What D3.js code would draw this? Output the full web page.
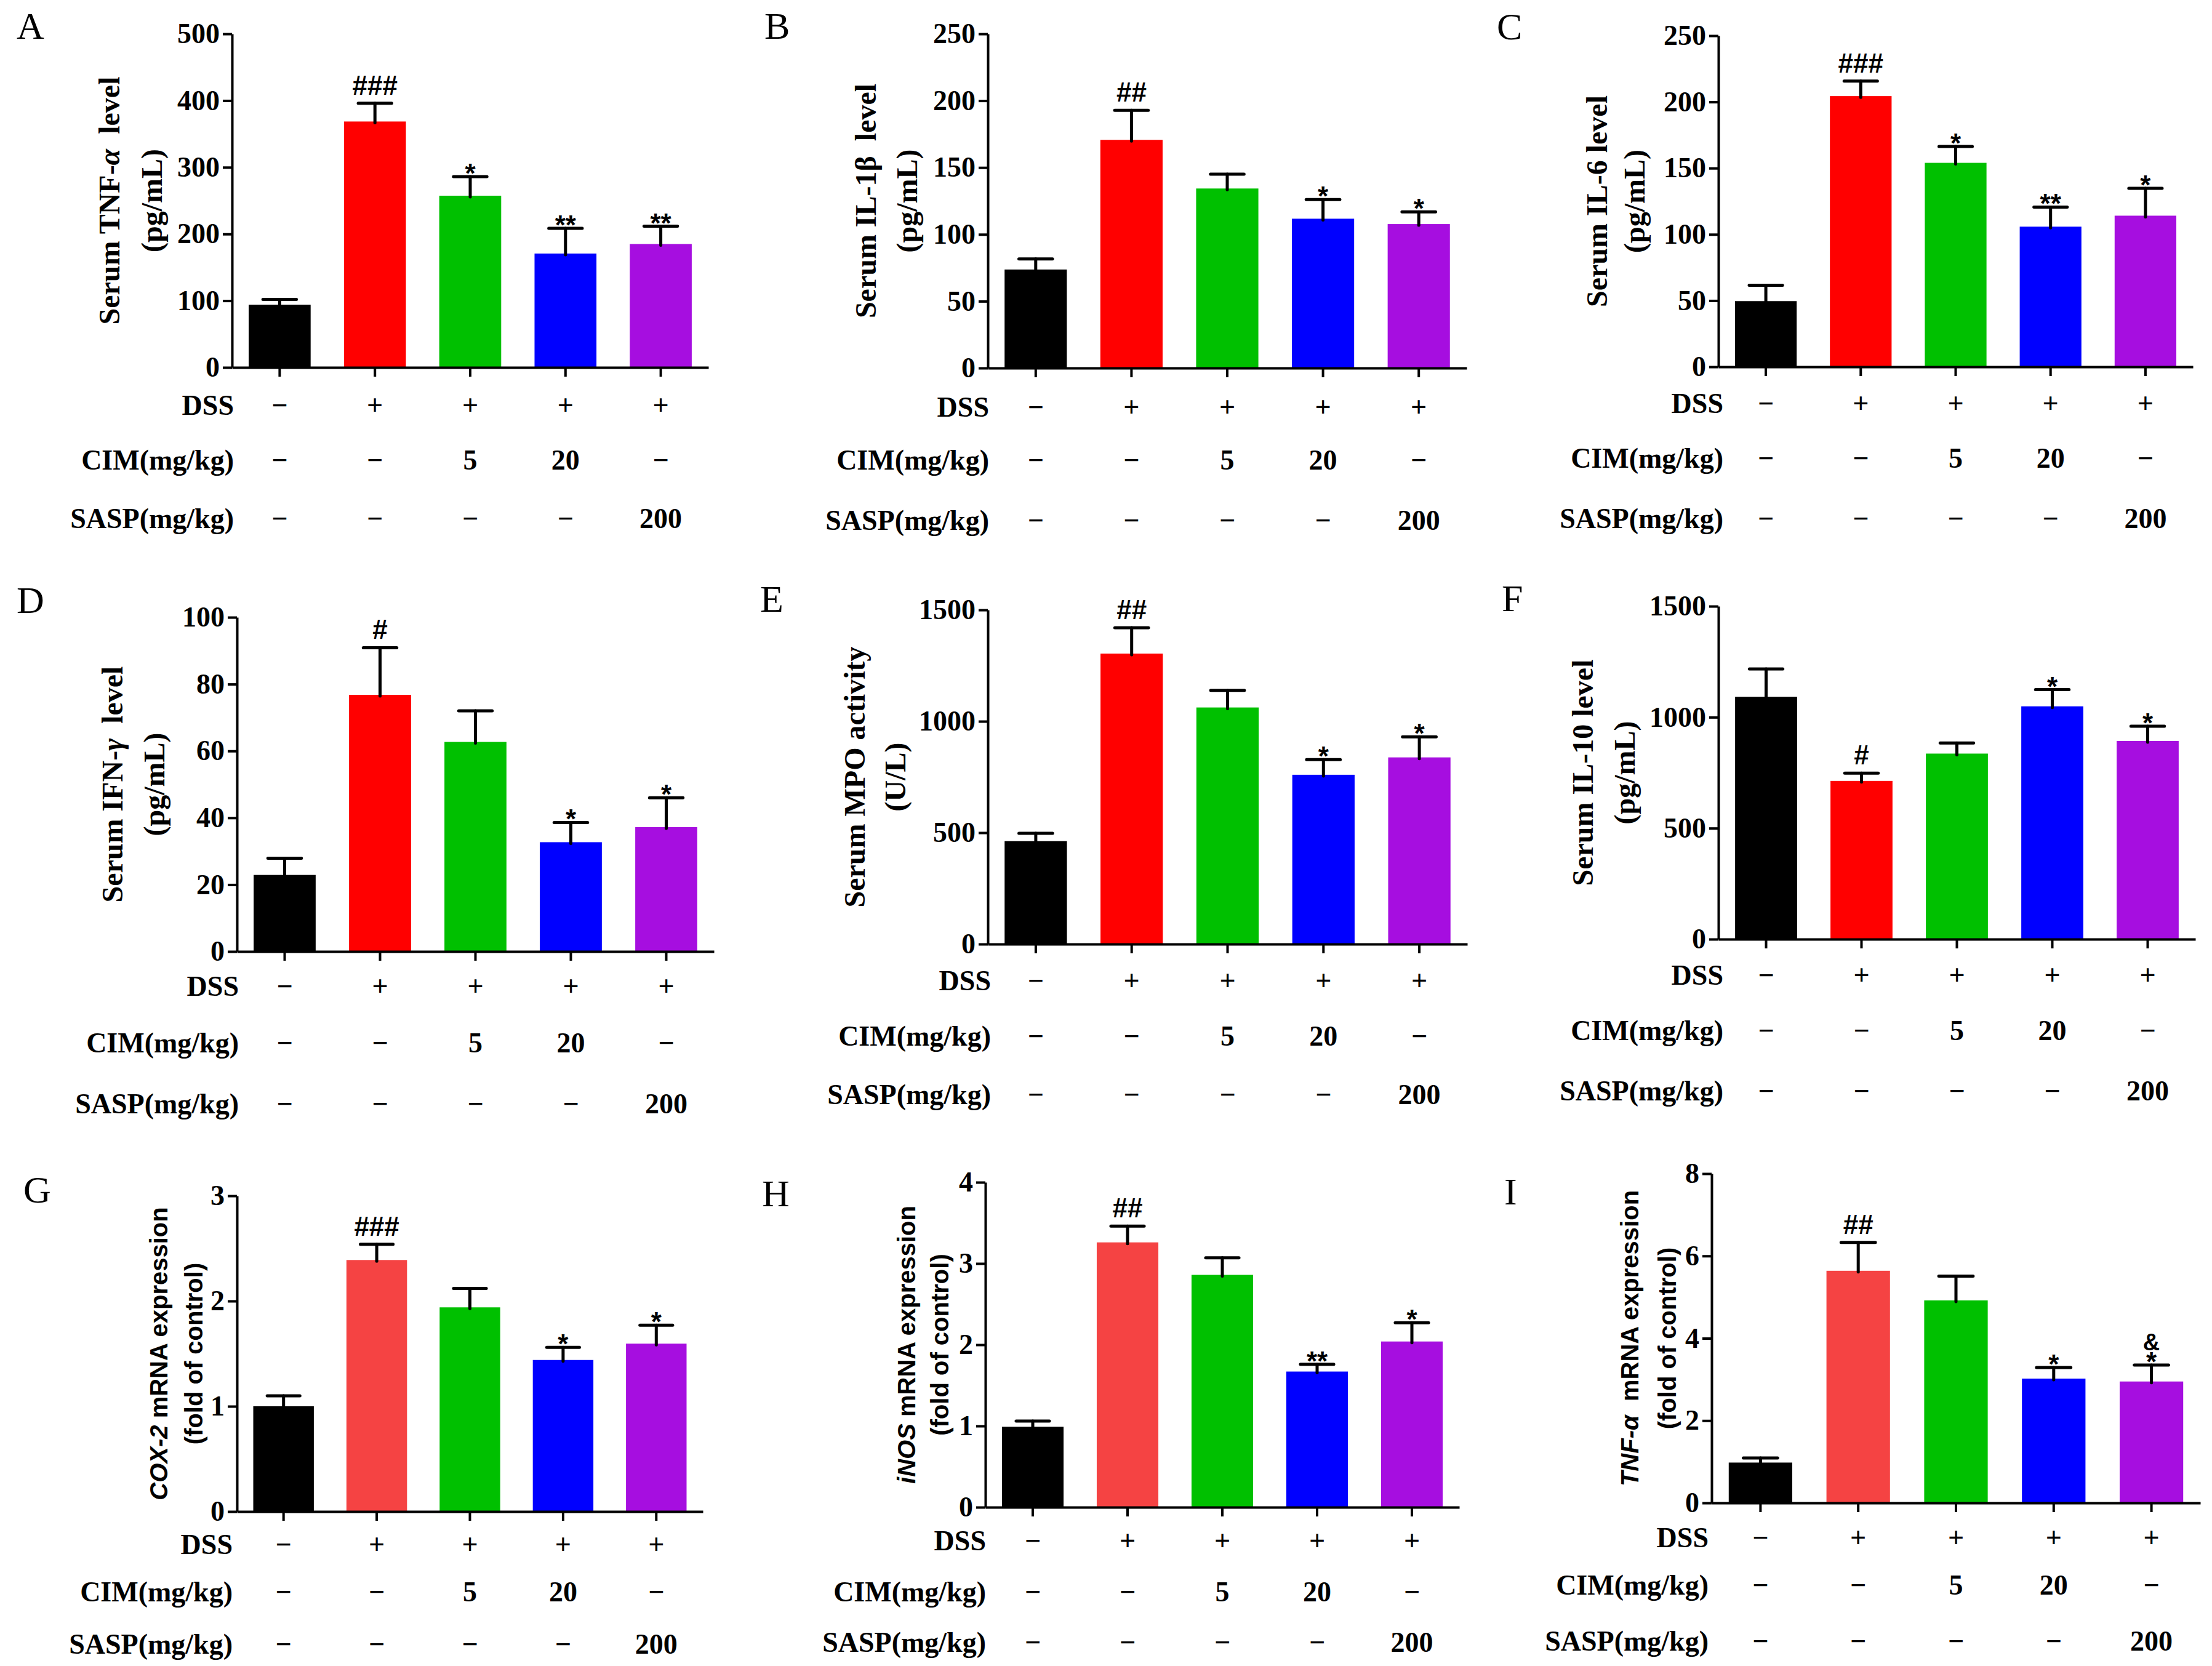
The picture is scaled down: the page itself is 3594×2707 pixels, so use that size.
<!DOCTYPE html>
<html lang="en">
<head>
<meta charset="utf-8">
<title>Serum cytokines and colonic mRNA expression</title>
<script src="https://d3js.org/d3.v7.min.js"></script>
<style>
  body { margin: 0; background: #fff; }
  svg { display: block; }
  .axis path, .axis line { stroke: #000; stroke-width: 4; }
  .axis text { font-family: "Liberation Serif", "Times New Roman", serif; font-weight: bold; font-size: 46px; fill: #000; }
  .row-text { font-family: "Liberation Serif", "Times New Roman", serif; font-weight: bold; font-size: 46px; fill: #000; }
  .ytitle { font-family: "Liberation Serif", "Times New Roman", serif; font-weight: bold; font-size: 48px; fill: #000; }
  .ytitle.sans { font-family: "Liberation Sans", Arial, sans-serif; font-size: 40px; }
  .letter { font-family: "Liberation Serif", "Times New Roman", serif; font-size: 62px; fill: #000; }
  .ann { font-family: "Liberation Sans", Arial, sans-serif; font-weight: bold; fill: #000; }
  .err { stroke: #000; stroke-width: 5; stroke-linecap: round; }
</style>
</head>
<body>
<svg id="fig" width="3594" height="2707"></svg>
<script>
// groups (x categories) and the treatment rows under each panel
const groups = ["Control", "DSS", "DSS+CIM5", "DSS+CIM20", "DSS+SASP"];
const rowNames = ["DSS", "CIM(mg/kg)", "SASP(mg/kg)"];
const dssRow = ["\u2212", "+", "+", "+", "+"];
const cimRow = ["\u2212", "\u2212", "5", "20", "\u2212"];
const saspRow = ["\u2212", "\u2212", "\u2212", "\u2212", "200"];

const panelLetters = ["A", "B", "C", "D", "E", "F", "G", "H", "I"];

// mean values
const tnfSerum = [94, 368.6, 257.4, 170.7, 185];
const il1bSerum = [73.7, 170.7, 134.3, 111.7, 107.7];
const il6Serum = [49.6, 204.4, 154, 105.8, 114.1];
const ifngSerum = [22.9, 76.8, 62.7, 32.7, 37.2];
const mpoSerum = [462, 1304, 1062, 760, 838];
const il10Serum = [1092, 713, 836, 1049, 893];
const cox2Mrna = [1.0, 2.39, 1.94, 1.44, 1.595];
const inosMrna = [0.99, 3.26, 2.86, 1.67, 2.04];
const tnfMrna = [0.98, 5.64, 4.92, 3.02, 2.95];

// upper error (SEM) for each bar
const tnfSerumErr = [8, 27.4, 28.6, 37.8, 26.7];
const il1bSerumErr = [7.9, 22.1, 10.7, 14.3, 9.1];
const il6SerumErr = [12, 11.3, 12.4, 14.8, 20.7];
const ifngSerumErr = [5, 14.1, 9.3, 5.9, 8.8];
const mpoSerumErr = [35, 116, 77, 68, 92];
const il10SerumErr = [125, 35, 48, 75, 66];
const cox2MrnaErr = [0.10, 0.15, 0.18, 0.12, 0.175];
const inosMrnaErr = [0.07, 0.20, 0.21, 0.09, 0.23];
const tnfMrnaErr = [0.11, 0.69, 0.59, 0.27, 0.40];

// significance marks above the bars
const tnfSerumSig = ["", "###", "*", "**", "**"];
const il1bSerumSig = ["", "##", "", "*", "*"];
const il6SerumSig = ["", "###", "*", "**", "*"];
const ifngSerumSig = ["", "#", "", "*", "*"];
const mpoSerumSig = ["", "##", "", "*", "*"];
const il10SerumSig = ["", "#", "", "*", "*"];
const cox2MrnaSig = ["", "###", "", "*", "*"];
const inosMrnaSig = ["", "##", "", "**", "*"];
const tnfMrnaSig = ["", "##", "", "*", "&\n*"];

// y axis ticks
const ticks500 = [0, 100, 200, 300, 400, 500];
const ticks250 = [0, 50, 100, 150, 200, 250];
const ticks100 = [0, 20, 40, 60, 80, 100];
const ticks1500 = [0, 500, 1000, 1500];
const ticks3 = [0, 1, 2, 3];
const ticks4 = [0, 1, 2, 3, 4];
const ticks8 = [0, 2, 4, 6, 8];

// axis titles: each line is a list of [text, italic]
const titleA = [[["Serum TNF-", false], ["\u03b1", true], ["  level", false]], [["(pg/mL)", false]]];
const titleB = [[["Serum IL-1\u03b2  level", false]], [["(pg/mL)", false]]];
const titleC = [[["Serum IL-6 level", false]], [["(pg/mL)", false]]];
const titleD = [[["Serum IFN-", false], ["\u03b3", true], ["  level", false]], [["(pg/mL)", false]]];
const titleE = [[["Serum MPO activity", false]], [["(U/L)", false]]];
const titleF = [[["Serum IL-10 level", false]], [["(pg/mL)", false]]];
const titleG = [[["COX-2", true], [" mRNA expression", false]], [["(fold of control)", false]]];
const titleH = [[["iNOS", true], [" mRNA expression", false]], [["(fold of control)", false]]];
const titleI = [[["TNF-\u03b1", true], ["  mRNA expression", false]], [["(fold of control)", false]]];

const serumColors = ["#000000", "#ff0000", "#00c000", "#0000ff", "#a60ee0"];
const mrnaColors = ["#000000", "#f54343", "#00c000", "#0000ff", "#a60ee0"];

const panels = [
  { mean: tnfSerum, err: tnfSerumErr, sig: tnfSerumSig, ticks: ticks500, title: titleA, colors: serumColors, sans: false },
  { mean: il1bSerum, err: il1bSerumErr, sig: il1bSerumSig, ticks: ticks250, title: titleB, colors: serumColors, sans: false },
  { mean: il6Serum, err: il6SerumErr, sig: il6SerumSig, ticks: ticks250, title: titleC, colors: serumColors, sans: false },
  { mean: ifngSerum, err: ifngSerumErr, sig: ifngSerumSig, ticks: ticks100, title: titleD, colors: serumColors, sans: false },
  { mean: mpoSerum, err: mpoSerumErr, sig: mpoSerumSig, ticks: ticks1500, title: titleE, colors: serumColors, sans: false },
  { mean: il10Serum, err: il10SerumErr, sig: il10SerumSig, ticks: ticks1500, title: titleF, colors: serumColors, sans: false },
  { mean: cox2Mrna, err: cox2MrnaErr, sig: cox2MrnaSig, ticks: ticks3, title: titleG, colors: mrnaColors, sans: true },
  { mean: inosMrna, err: inosMrnaErr, sig: inosMrnaSig, ticks: ticks4, title: titleH, colors: mrnaColors, sans: true },
  { mean: tnfMrna, err: tnfMrnaErr, sig: tnfMrnaSig, ticks: ticks8, title: titleI, colors: mrnaColors, sans: true }
];

// where each panel sits on the page (plot frame, rows, title lines, letter)
const frames = [
  { x0: 377, x1: 1151, yTop: 55, y0: 597, rows: [658, 747, 842], rowRight: 380, t1: 177, t2: 246, lx: 27, ly: 63 },
  { x0: 1605, x1: 2383, yTop: 55, y0: 598, rows: [661, 747, 845], rowRight: 1607, t1: 1406, t2: 1473, lx: 1242, ly: 63 },
  { x0: 2792, x1: 3563, yTop: 58, y0: 596, rows: [655, 744, 842], rowRight: 2800, t1: 2594, t2: 2655, lx: 2432, ly: 64 },
  { x0: 385, x1: 1160, yTop: 1003, y0: 1546, rows: [1602, 1694, 1793], rowRight: 388, t1: 182, t2: 250, lx: 27, ly: 996 },
  { x0: 1605, x1: 2384, yTop: 991, y0: 1534, rows: [1593, 1683, 1778], rowRight: 1610, t1: 1388, t2: 1454, lx: 1235, ly: 994 },
  { x0: 2792, x1: 3567, yTop: 985, y0: 1526, rows: [1584, 1674, 1772], rowRight: 2800, t1: 2571, t2: 2639, lx: 2440, ly: 993 },
  { x0: 385, x1: 1142, yTop: 1943, y0: 2456, rows: [2509, 2586, 2671], rowRight: 378, t1: 258, t2: 315, lx: 38, ly: 1954 },
  { x0: 1601, x1: 2371, yTop: 1921, y0: 2449, rows: [2503, 2586, 2668], rowRight: 1602, t1: 1473, t2: 1527, lx: 1238, ly: 1960 },
  { x0: 2781, x1: 3575, yTop: 1907, y0: 2442, rows: [2498, 2575, 2666], rowRight: 2776, t1: 2648, t2: 2709, lx: 2444, ly: 1957 }
];

// baseline offset from the error cap and font size, per mark glyph
const markStyle = {
  "#": { dy: -14, size: 44 },
  "*": { dy: 10, size: 44 },
  "&": { dy: -24, size: 38 }
};

const svg = d3.select("#fig");
const rows = [dssRow, cimRow, saspRow];

panels.forEach((p, k) => drawPanel(p, frames[k], panelLetters[k]));

function drawPanel(p, f, letter) {
  const g = svg.append("g");
  const x = d3.scaleBand().domain(groups).range([f.x0, f.x1])
    .paddingInner(0.35).paddingOuter(0.175);
  const y = d3.scaleLinear().domain([0, d3.max(p.ticks)]).range([f.y0, f.yTop]);
  const cx = i => x(groups[i]) + x.bandwidth() / 2;
  const capW = x.bandwidth() * 0.54;

  // bars
  g.selectAll("rect.bar").data(p.mean).join("rect")
    .attr("class", "bar")
    .attr("x", (d, i) => x(groups[i]))
    .attr("width", x.bandwidth())
    .attr("y", d => y(d))
    .attr("height", d => y(0) - y(d))
    .attr("fill", (d, i) => p.colors[i]);

  // upper error bars
  g.selectAll("line.stem").data(p.mean).join("line")
    .attr("class", "err stem")
    .attr("x1", (d, i) => cx(i)).attr("x2", (d, i) => cx(i))
    .attr("y1", d => y(d) + 2).attr("y2", (d, i) => y(d + p.err[i]));
  g.selectAll("line.cap").data(p.mean).join("line")
    .attr("class", "err cap")
    .attr("x1", (d, i) => cx(i) - capW / 2).attr("x2", (d, i) => cx(i) + capW / 2)
    .attr("y1", (d, i) => y(d + p.err[i])).attr("y2", (d, i) => y(d + p.err[i]));

  // significance marks
  p.sig.forEach((s, i) => {
    if (!s) return;
    const capY = y(p.mean[i] + p.err[i]);
    s.split("\n").forEach(line => {
      const st = markStyle[line[0]];
      g.append("text").attr("class", "ann")
        .attr("x", cx(i)).attr("y", capY + st.dy)
        .attr("text-anchor", "middle")
        .style("font-size", st.size + "px")
        .text(line);
    });
  });

  // axes
  g.append("g").attr("class", "axis")
    .attr("transform", `translate(${f.x0},0)`)
    .call(d3.axisLeft(y).tickValues(p.ticks).tickSize(15).tickSizeOuter(0).tickPadding(5).tickFormat(d3.format("d")));
  g.append("g").attr("class", "axis")
    .attr("transform", `translate(0,${f.y0})`)
    .call(d3.axisBottom(x).tickSize(15).tickSizeOuter(0).tickFormat(""));

  // treatment rows
  rows.forEach((vals, r) => {
    g.append("text").attr("class", "row-text")
      .attr("x", f.rowRight).attr("y", f.rows[r]).attr("dy", "0.35em")
      .attr("text-anchor", "end").text(rowNames[r]);
    vals.forEach((v, i) => {
      g.append("text").attr("class", "row-text")
        .attr("x", cx(i)).attr("y", f.rows[r]).attr("dy", "0.35em")
        .attr("text-anchor", "middle").text(v);
    });
  });

  // y axis title, two lines
  const midY = (f.y0 + f.yTop) / 2;
  [f.t1, f.t2].forEach((tx, li) => {
    const t = g.append("text").attr("class", p.sans ? "ytitle sans" : "ytitle")
      .attr("transform", `translate(${tx},${midY}) rotate(-90)`)
      .attr("text-anchor", "middle").attr("dy", "0.35em")
      .style("white-space", "pre");
    p.title[li].forEach(([txt, it]) => {
      t.append("tspan").style("font-style", it ? "italic" : "normal").text(txt);
    });
  });

  // panel letter
  g.append("text").attr("class", "letter").attr("x", f.lx).attr("y", f.ly).text(letter);
}
</script>
</body>
</html>
